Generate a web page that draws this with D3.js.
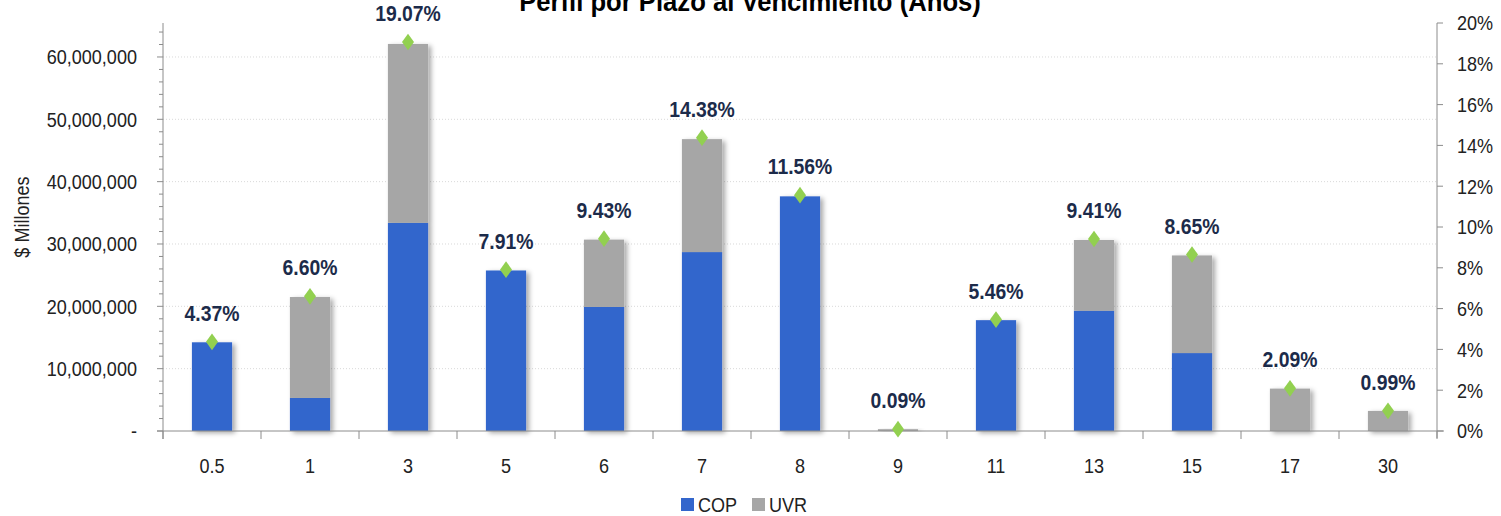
<!DOCTYPE html>
<html><head><meta charset="utf-8">
<script src="https://cdn.jsdelivr.net/npm/d3@7"></script>
<style>
body{margin:0;background:#fff;}
svg{display:block;font-family:"Liberation Sans",Arial,sans-serif;}
</style></head>
<body><svg id="chart" width="1501" height="516"></svg>
<script>
const categories = ["0.5","1","3","5","6","7","8","9","11","13","15","17","30"];
const cop = [14.23, 5.3, 33.4, 25.75, 19.9, 28.7, 37.64, 0, 17.78, 19.3, 12.5, 0, 0]; // millions of millions
const uvr = [0, 16.19, 28.69, 0, 10.8, 18.12, 0, 0.29, 0, 11.34, 15.66, 6.8, 3.22];
const pct = [4.37, 6.60, 19.07, 7.91, 9.43, 14.38, 11.56, 0.09, 5.46, 9.41, 8.65, 2.09, 0.99];
const leftTicks = [0, 10, 20, 30, 40, 50, 60];
const rightTicks = [0, 2, 4, 6, 8, 10, 12, 14, 16, 18, 20];
const title = "Perfil por Plazo al Vencimiento (Años)";
const yTitle = "$ Millones";
const seriesNames = ["COP", "UVR"];
const colors = {COP: "#3366cc", UVR: "#a6a6a6", marker: "#92d050", label: "#1c2b4a", axis: "#8c8c8c", text: "#222"};

const svg = d3.select("#chart");
const L = 163, R = 1437, T = 23, B = 431;
const SX = 0.86; // condensed look

const x = d3.scaleBand().domain(categories).range([L, R]).paddingInner(0.59).paddingOuter(0.295);
const yL = d3.scaleLinear().domain([0, 65.45]).range([B, T]);
const yR = d3.scaleLinear().domain([0, 20]).range([B, T]);

const defs = svg.append("defs");
const f = defs.append("filter").attr("id","sh").attr("x","-20%").attr("y","-20%").attr("width","160%").attr("height","150%");
f.append("feDropShadow").attr("dx",3).attr("dy",2).attr("stdDeviation",2.5).attr("flood-color","#000").attr("flood-opacity",0.35);

// gridlines
svg.append("g").selectAll("line").data(leftTicks.filter(d=>d>0)).join("line")
  .attr("x1", L).attr("x2", R).attr("y1", d=>yL(d)).attr("y2", d=>yL(d))
  .attr("stroke", "#d9d9d9").attr("stroke-dasharray", "1,2").attr("stroke-width", 1);

// bars
const stack = categories.map((c,i)=>({c, cop: cop[i], uvr: uvr[i]}));
const gb = svg.append("g");
stack.forEach(d=>{
  const g = gb.append("g").attr("filter","url(#sh)");
  if (d.cop > 0) g.append("rect").attr("x", x(d.c)).attr("width", x.bandwidth())
     .attr("y", yL(d.cop)).attr("height", yL(0)-yL(d.cop)).attr("fill", colors.COP);
  if (d.uvr > 0) g.append("rect").attr("x", x(d.c)).attr("width", x.bandwidth())
     .attr("y", yL(d.cop + d.uvr)).attr("height", yL(d.cop)-yL(d.cop+d.uvr)).attr("fill", colors.UVR);
});

// left axis
const minor = d3.range(0, 65, 2);
const gl = svg.append("g");
gl.append("line").attr("x1", L).attr("x2", L).attr("y1", T).attr("y2", B+8).attr("stroke", colors.axis);
gl.selectAll("line.mn").data(minor).join("line").attr("class","mn")
  .attr("x1", d=> d%10===0 ? L-6 : L-4).attr("x2", L).attr("y1", d=>yL(d)).attr("y2", d=>yL(d)).attr("stroke", colors.axis);
gl.selectAll("text").data(leftTicks).join("text")
  .attr("transform", d=>`translate(137,${yL(d)}) scale(${SX},1)`).attr("dy","0.35em").attr("text-anchor","end")
  .attr("font-size", 21).attr("fill", colors.text)
  .text(d=> d===0 ? "-" : d3.format(",")(d*1000000));
svg.append("text").attr("transform", `translate(29,${(T+B)/2 - 10}) rotate(-90) scale(${SX},1)`).attr("text-anchor","middle")
  .attr("font-size", 21).attr("fill", colors.text).text(yTitle);

// right axis
const gr = svg.append("g");
gr.append("line").attr("x1", R).attr("x2", R).attr("y1", T).attr("y2", B+7).attr("stroke", colors.axis);
gr.selectAll("line.t").data(rightTicks).join("line").attr("class","t")
  .attr("x1", R).attr("x2", R+6).attr("y1", d=>yR(d)).attr("y2", d=>yR(d)).attr("stroke", colors.axis);
gr.selectAll("text").data(rightTicks).join("text")
  .attr("transform", d=>`translate(1457,${yR(d)}) scale(${SX},1)`).attr("dy","0.35em").attr("font-size", 21).attr("fill", colors.text)
  .text(d=> d + "%");

// x axis
const gx = svg.append("g");
gx.append("line").attr("x1", L-6).attr("x2", R+7).attr("y1", B).attr("y2", B).attr("stroke", colors.axis);
const bounds = d3.range(0, categories.length+1).map(i=> L + i*(R-L)/categories.length);
gx.selectAll("line.t").data(bounds).join("line").attr("class","t")
  .attr("x1", d=>d).attr("x2", d=>d).attr("y1", B).attr("y2", B+8).attr("stroke", colors.axis);
gx.selectAll("text").data(categories).join("text")
  .attr("transform", d=>`translate(${x(d)+x.bandwidth()/2},466) scale(${SX},1)`).attr("dy","0.35em").attr("text-anchor","middle")
  .attr("font-size", 21).attr("fill", colors.text).text(d=>d);

// markers and labels
const gm = svg.append("g");
categories.forEach((c,i)=>{
  const cx = x(c)+x.bandwidth()/2, cy = yR(pct[i]);
  gm.append("path").attr("d", d3.symbol(d3.symbolDiamond, 80)()).attr("transform", `translate(${cx},${cy}) scale(1.25,1)`)
    .attr("fill", colors.marker);
  gm.append("text").attr("transform", `translate(${cx},${cy-21}) scale(0.88,1)`).attr("text-anchor","middle")
    .attr("font-size", 22).attr("font-weight","bold").attr("fill", colors.label)
    .text(pct[i].toFixed(2) + "%");
});

// title
svg.append("text").attr("transform", "translate(750,11) scale(0.95,1)").attr("text-anchor","middle").attr("font-size", 27)
  .attr("font-weight","bold").attr("fill","#000").text(title);

// legend
const lg = svg.append("g");
const items = [{n:"COP", x:681, c:colors.COP},{n:"UVR", x:752, c:colors.UVR}];
items.forEach(it=>{
  lg.append("rect").attr("x", it.x).attr("y", 498).attr("width", 13).attr("height", 13).attr("fill", it.c);
  lg.append("text").attr("transform", `translate(${it.x+17},505) scale(${SX},1)`).attr("dy","0.35em").attr("font-size", 21).attr("fill", colors.text).text(it.n);
});
</script></body></html>
